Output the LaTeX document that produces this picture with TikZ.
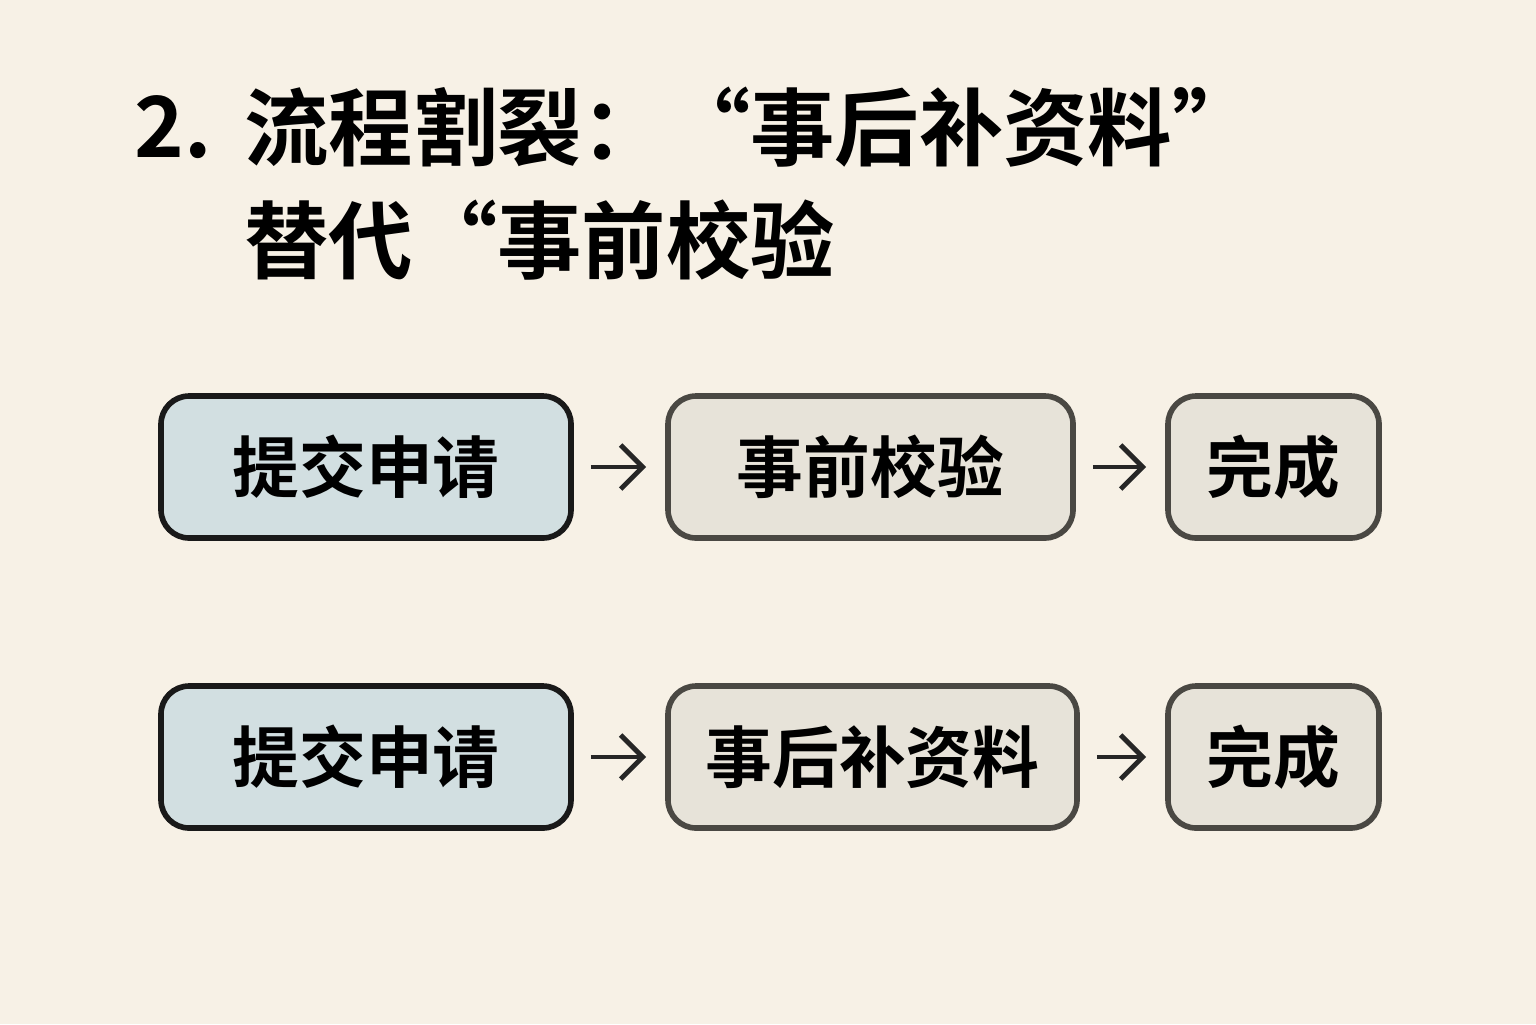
\documentclass[tikz,border=0pt]{standalone}
\usepackage{fontspec}
\usepackage{tikz}
\usetikzlibrary{arrows.meta, positioning}
\setmainfont{Noto Sans CJK SC}[BoldFont={* Bold}]
\definecolor{bgpaper}{HTML}{F7F1E6}
\definecolor{bluefill}{HTML}{D2DFE1}
\definecolor{greyfill}{HTML}{E7E3D9}
\definecolor{greyline}{HTML}{4A4843}
\tikzset{
    stepstart/.style={
        rectangle, rounded corners=8pt,
        draw=black!90, line width=1.6pt,
        fill=bluefill,
        minimum width=4.1cm, minimum height=1.42cm,
        font=\bfseries\fontsize{19}{22}\selectfont
    },
    stepmid/.style={
        stepstart, draw=greyline, fill=greyfill
    },
    flow/.style={-{Straight Barb[length=2.2mm, width=4.4mm]}, line width=1.4pt, black!85,
        shorten <=0.17cm, shorten >=0.19cm}
}
\begin{document}
\begin{tikzpicture}[x=1cm, y=1cm]
    \fill[bgpaper] (0,0) rectangle (15.36,-10.24);
    \useasboundingbox (0,0) rectangle (15.36,-10.24);

    % title
    \node[anchor=west, font=\bfseries\fontsize{24}{28}\selectfont] (num) at (1.22,-1.27) {2.};
    \node[anchor=west, font=\bfseries\fontsize{24}{28}\selectfont] (head1) at (2.32,-1.27) {流程割裂：“事后补资料”};
    \node[anchor=west, font=\bfseries\fontsize{24}{28}\selectfont] (head2) at (2.32,-2.4) {替代“事前校验};

    % row one
    \node[stepstart] (submitA) at (3.66,-4.67) {提交申请};
    \node[stepmid, minimum width=4.05cm] (checkA) at (8.705,-4.67) {事前校验};
    \node[stepmid, minimum width=2.11cm] (doneA) at (12.735,-4.67) {完成};

    % row two
    \node[stepstart] (submitB) at (3.66,-7.57) {提交申请};
    \node[stepmid, minimum width=4.09cm] (fixB) at (8.725,-7.57) {事后补资料};
    \node[stepmid, minimum width=2.11cm] (doneB) at (12.735,-7.57) {完成};

    \draw[flow] (submitA) -- (checkA);
    \draw[flow] (checkA) -- (doneA);
    \draw[flow] (submitB) -- (fixB);
    \draw[flow] (fixB) -- (doneB);
\end{tikzpicture}
\end{document}
